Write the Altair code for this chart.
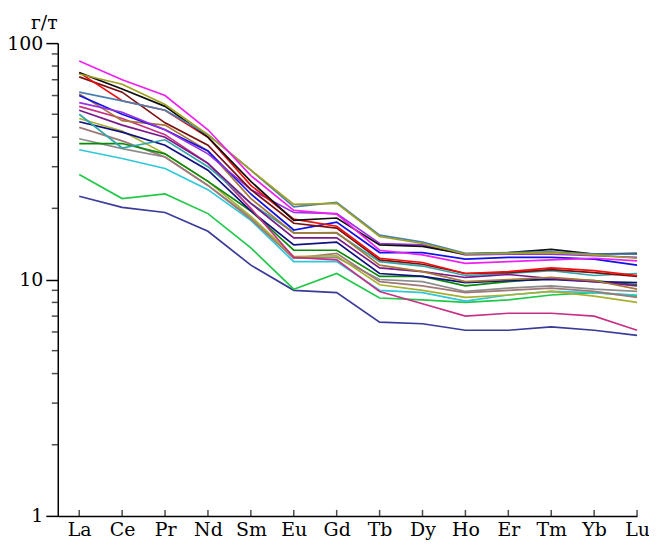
import altair as alt
import pandas as pd

elements = ["La", "Ce", "Pr", "Nd", "Sm", "Eu", "Gd", "Tb", "Dy", "Ho", "Er", "Tm", "Yb", "Lu"]

# REE contents, g/t
s_magenta = [84, 70, 60, 43, 27.5, 19.6, 18.9, 13.3, 12.7, 11.7, 11.9, 12.1, 12.3, 12.0]
s_olive = [74, 67, 55, 41, 29, 20.8, 21.0, 15.2, 14.2, 12.8, 12.9, 13.0, 12.7, 12.3]
s_steel = [62, 57, 52, 41, 29, 20.3, 21.2, 15.4, 14.4, 12.9, 13.0, 13.1, 12.8, 12.8]
s_black = [75, 64, 54, 40, 26, 17.8, 18.2, 14.0, 13.8, 12.8, 13.0, 13.4, 12.8, 12.9]
s_red = [75, 57, 52, 40, 25, 18.0, 16.8, 12.3, 11.8, 10.6, 10.8, 11.2, 10.9, 10.4]
s_darkred = [72, 62, 46, 37, 24, 17.3, 16.5, 12.1, 11.6, 10.6, 10.7, 11.0, 10.7, 10.3]
s_violet = [56, 51, 43, 34, 24, 19.2, 19.0, 14.2, 14.0, 12.7, 12.8, 12.8, 12.6, 12.4]
s_blue = [60, 50, 43, 35, 23, 16.2, 17.5, 13.0, 13.0, 12.2, 12.4, 12.4, 12.2, 11.5]
s_brown = [61, 47, 45, 35, 22, 15.7, 15.8, 11.5, 10.8, 9.8, 10.0, 10.2, 9.9, 9.1]
s_purple = [52, 45, 40, 31, 21, 15.0, 15.0, 11.2, 10.8, 10.2, 10.5, 10.1, 9.8, 9.4]
s_teal = [50, 36, 39, 30, 21, 15.8, 15.7, 11.9, 11.4, 10.4, 10.6, 10.9, 10.4, 10.6]
s_pink = [54, 48, 41, 31, 20, 12.4, 12.1, 8.9, 7.9, 7.0, 7.2, 7.2, 7.0, 6.1]
s_navy = [46.5, 42, 37, 29, 19.5, 14.0, 14.4, 10.6, 10.3, 9.7, 9.9, 10.0, 9.8, 9.7]
s_green = [37.6, 37.6, 34, 26, 19.5, 13.3, 13.3, 10.3, 10.3, 9.4, 9.8, 10.1, 9.9, 9.5]
s_yellowgreen = [48, 42.5, 34, 26, 18.5, 12.5, 12.6, 9.5, 9.0, 8.4, 8.6, 8.9, 8.5, 8.0]
s_rosy = [44, 38.6, 33, 25, 18, 12.3, 12.9, 9.8, 9.4, 8.8, 9.0, 9.2, 8.9, 8.4]
s_gray = [39.4, 35.8, 33, 25, 18.3, 12.3, 12.4, 10.0, 9.8, 8.9, 9.2, 9.4, 9.1, 8.9]
s_cyan = [35.4, 32.5, 29.5, 24, 17.8, 11.9, 11.9, 9.0, 8.8, 8.1, 8.6, 8.9, 8.8, 8.6]
s_lime = [27.8, 22, 23, 19, 13.6, 9.1, 10.6, 8.35, 8.2, 8.0, 8.2, 8.6, 8.8, 8.5]
s_slate = [22.5, 20.2, 19.2, 16, 11.5, 9.0, 8.8, 6.6, 6.5, 6.1, 6.1, 6.3, 6.1, 5.8]

series = [
    ("s01", "#3a3a98", s_slate),
    ("s02", "#22c84a", s_lime),
    ("s03", "#2ec8d8", s_cyan),
    ("s04", "#8c8c8c", s_gray),
    ("s05", "#a07878", s_rosy),
    ("s06", "#a8b030", s_yellowgreen),
    ("s07", "#0a8a0a", s_green),
    ("s08", "#101080", s_navy),
    ("s09", "#c83088", s_pink),
    ("s10", "#30a8a8", s_teal),
    ("s11", "#7a1a8a", s_purple),
    ("s12", "#a87838", s_brown),
    ("s13", "#1010e8", s_blue),
    ("s14", "#9a30e0", s_violet),
    ("s15", "#7a1010", s_darkred),
    ("s16", "#f01010", s_red),
    ("s17", "#101010", s_black),
    ("s18", "#4a80b0", s_steel),
    ("s19", "#a0a020", s_olive),
    ("s20", "#f020f0", s_magenta),
]

rows = []
for name, color, vals in series:
    for i, v in enumerate(vals):
        rows.append({"sample": name, "idx": i, "value": v})
df = pd.DataFrame(rows)

names = [s[0] for s in series]
colors = [s[1] for s in series]

W, H = 582, 475
font = "DejaVu Serif"

label_expr = "[" + ",".join("'%s'" % e for e in elements) + "][datum.value]"
minor_y_ticks = [2, 3, 4, 5, 6, 7, 8, 9, 20, 30, 40, 50, 60, 70, 80, 90]
major_vals = [1, 10, 100]
x_idx = list(range(len(elements)))

xscale = alt.Scale(domain=[-0.5, 13], nice=False, zero=False)
yscale = alt.Scale(type="log", domain=[1, 100], nice=False)

lines = alt.Chart(df).mark_line(strokeWidth=1.7).encode(
    x=alt.X("idx:Q", scale=xscale,
            axis=alt.Axis(values=x_idx, labelExpr=label_expr,
                          ticks=False, grid=False, title=None, labelFlush=False,
                          labelFontSize=19, labelPadding=5, labelFont=font,
                          labelColor="black", domainColor="black", domainWidth=1.5)),
    y=alt.Y("value:Q", scale=yscale,
            axis=alt.Axis(values=major_vals, format="d",
                          tickSize=12, labelFontSize=19, labelPadding=3, grid=False,
                          labelFont=font, labelColor="black", domainColor="black",
                          domainWidth=1.5, tickColor="black", tickWidth=1.5,
                          title="г/т", titleAngle=0, titleFontSize=19, titleFont=font,
                          titleColor="black", titleFontWeight="normal",
                          titleX=-14, titleY=-15, titleAlign="center",
                          titleBaseline="alphabetic")),
    color=alt.Color("sample:N", scale=alt.Scale(domain=names, range=colors), legend=None),
    detail="sample:N",
    order="idx:Q",
)

# inward ticks on the element axis
xt_df = pd.DataFrame({"idx": x_idx})
xticks = alt.Chart(xt_df).mark_tick(orient="vertical", color="black",
                                    thickness=1.5, size=6).encode(
    x=alt.X("idx:Q", scale=xscale),
    y=alt.value(H - 3),
)

# minor ticks on the log axis
yt_df = pd.DataFrame({"value": minor_y_ticks})
yticks = alt.Chart(yt_df).mark_tick(orient="horizontal", color="black",
                                    thickness=1.5, size=6).encode(
    y=alt.Y("value:Q", scale=yscale),
    x=alt.value(-3),
)

chart = alt.layer(lines, xticks, yticks).properties(
    width=W, height=H,
    autosize=alt.AutoSizeParams(type="none"),
    padding={"left": 50, "top": 34, "right": 12, "bottom": 34},
    background="white",
).configure_view(stroke=None)

chart.save("out.html", embed_options={"renderer": "svg", "actions": False})
